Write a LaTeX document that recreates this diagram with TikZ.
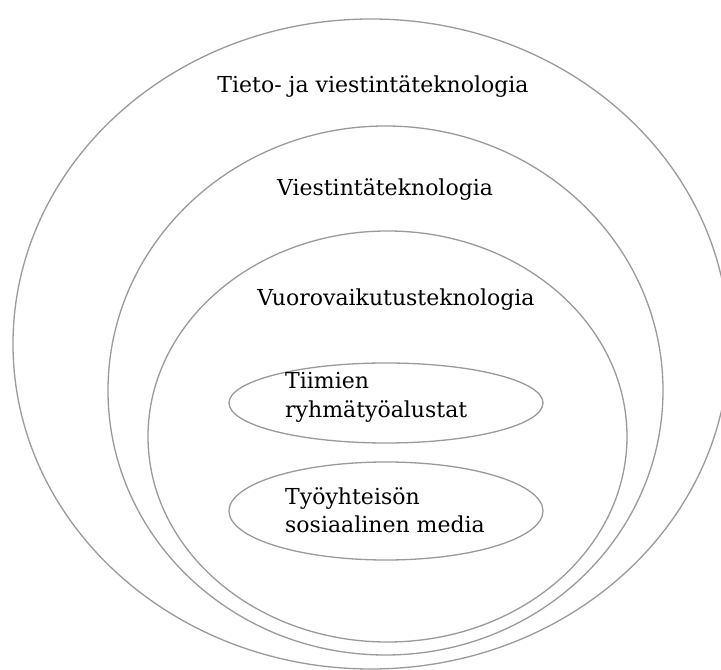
\documentclass[tikz,border=0pt]{standalone}
\usepackage{fontspec}
\setmainfont{DejaVu Serif}
\usetikzlibrary{shapes.geometric}
\definecolor{ringgray}{HTML}{9A9A9A}
\tikzset{
  ring/.style={ellipse, draw=ringgray, line width=1.3pt, inner sep=0pt, outer sep=0pt},
  lbl/.style={font=\fontsize{22}{28.5}\selectfont, text=black, inner sep=0pt},
  inlbl/.style={lbl, align=left, anchor=west}
}
\begin{document}
\begin{tikzpicture}[x=1pt,y=1pt]
\useasboundingbox[fill=white] (0,0) rectangle (721,670);
% rings
\node[ring, minimum width=716pt, minimum height=650pt] (outer) at (371,326) {};
\node[ring, minimum width=555pt, minimum height=529pt] (viest) at (385.5,279.5) {};
\node[ring, minimum width=479pt, minimum height=411pt] (vuoro) at (387.5,233.5) {};
\node[ring, minimum width=314pt, minimum height=80pt] (tiimi) at (386,267) {};
\node[ring, minimum width=314pt, minimum height=98pt] (tyoy) at (386,159) {};
% labels
\node[lbl, anchor=base] (tOuter) at (373,577) {Tieto- ja viestintäteknologia};
\node[lbl, anchor=base] (tViest) at (385,474) {Viestintäteknologia};
\node[lbl, anchor=base] (tVuoro) at (396,364) {Vuorovaikutusteknologia};
\node[inlbl] (tTiimi) at (285,272.7) {Tiimien\\ryhmätyöalustat};
\node[inlbl] (tTyoy) at (285,159.8) {Työyhteisön\\sosiaalinen media};
\end{tikzpicture}
\end{document}
